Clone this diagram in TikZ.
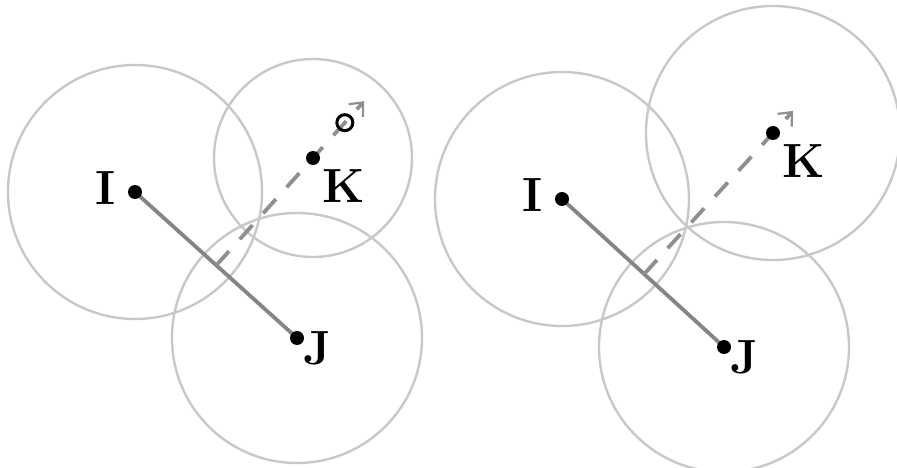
\documentclass[tikz,border=0pt]{standalone}
\usetikzlibrary{positioning, arrows.meta, calc}
\definecolor{radioGris}{HTML}{C8C8C8}
\definecolor{ejeGris}{HTML}{858585}
\definecolor{flechaGris}{HTML}{8F8F8F}

\tikzset{
  rango/.style={draw=radioGris, line width=2.4pt},
  segmento/.style={draw=ejeGris, line width=3.8pt},
  direccion/.style={draw=flechaGris, line width=3.8pt, dash pattern=on 19pt off 16pt,
    -{Straight Barb[length=11pt, width=19pt, line width=2.2pt]}},
  punto/.style={circle, fill=black, inner sep=0pt, minimum size=14pt},
  hueco/.style={circle, draw=black, line width=3pt, inner sep=0pt, minimum size=16pt},
  etiqueta/.style={font=\fontsize{48}{48}\selectfont\bfseries, inner sep=0pt},
}

\begin{document}
\begin{tikzpicture}[x=1pt, y=-1pt]
  \useasboundingbox (0,0) rectangle (897,468);
  % Paneles (nombre, I, J, K, radio de K): antes y despues del ajuste
  \foreach \p/\ix/\iy/\jx/\jy/\kx/\ky/\rk in {%
    a/135/192/297/338/313/158/99,
    b/562/199/724/347/773/133/127%
  } {
    \coordinate (I\p) at (\ix,\iy);
    \coordinate (J\p) at (\jx,\jy);
    \coordinate (K\p) at (\kx,\ky);
    % Pie de K sobre IJ y punta de la flecha
    \coordinate (F\p) at ($(I\p)!(K\p)!(J\p)$);
    \coordinate (T\p) at ($(F\p)!221pt!(K\p)$);
    % Circulos de alcance
    \draw[rango] (I\p) circle[radius=127];
    \draw[rango] (J\p) circle[radius=125];
    \draw[rango] (K\p) circle[radius=\rk];
    % Segmento IJ y direccion de K
    \draw[segmento] (I\p) -- (J\p);
    \draw[direccion] (F\p) -- (T\p);
    % Puntos y nombres
    \node[punto] (dotI\p) at (I\p) {};
    \node[punto] (dotJ\p) at (J\p) {};
    \node[punto] (dotK\p) at (K\p) {};
    \node[etiqueta] (lblI\p) at ($(I\p)+(-29,-4)$) {I};
    \node[etiqueta] (lblJ\p) at ($(J\p)+(20,10)$) {J};
    \node[etiqueta] (lblK\p) at ($(K\p)+(31,28)$) {K};
  }
  % Nueva posicion de K en el primer panel
  \node[hueco] (nuevoK) at ($(Fa)!192pt!(Ka)$) {};
\end{tikzpicture}
\end{document}
